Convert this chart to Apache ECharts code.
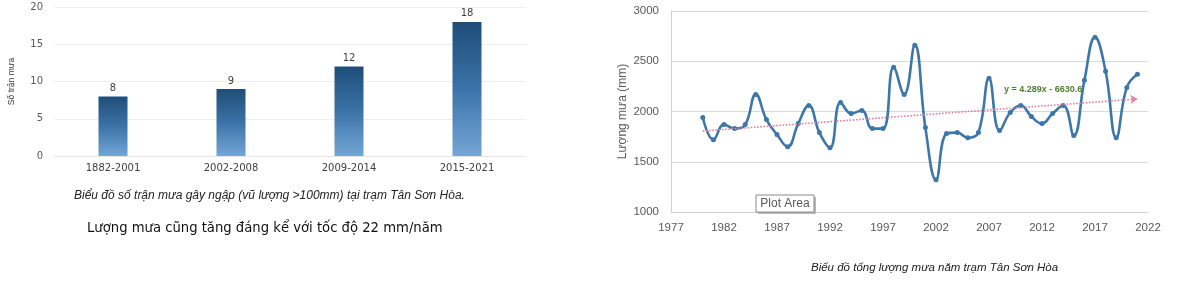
<!DOCTYPE html>
<html><head><meta charset="utf-8">
<script src="https://cdn.jsdelivr.net/npm/echarts@6/dist/echarts.min.js"></script>
<style>html,body{margin:0;padding:0;background:#fff}#c{width:1196px;height:293px}</style>
</head><body><div id="c"></div>
<script>
// ---- Left chart data ----
const periods = ['1882-2001', '2002-2008', '2009-2014', '2015-2021'];
const floodRainCounts = [8, 9, 12, 18];
const leftYTicks = [0, 5, 10, 15, 20];

// ---- Right chart data ----
const years = [1980, 1981, 1982, 1983, 1984, 1985, 1986, 1987, 1988, 1989, 1990,
  1991, 1992, 1993, 1994, 1995, 1996, 1997, 1998, 1999, 2000,
  2001, 2002, 2003, 2004, 2005, 2006, 2007, 2008, 2009, 2010,
  2011, 2012, 2013, 2014, 2015, 2016, 2017, 2018, 2019, 2020, 2021];
const rainfall = [1940, 1720, 1870, 1830, 1870, 2170, 1920, 1770, 1650, 1880, 2060,
  1790, 1640, 2090, 1980, 2010, 1830, 1830, 2440, 2170, 2660,
  1840, 1320, 1780, 1790, 1740, 1790, 2330, 1810, 1990, 2060,
  1950, 1880, 1980, 2060, 1760, 2310, 2740, 2400, 1740, 2240, 2370];
const trendYears = [1980, 2021];
const trendValues = [1805, 2125];
const xTickYears = [1977, 1982, 1987, 1992, 1997, 2002, 2007, 2012, 2017, 2022];
const rightYTicks = [1000, 1500, 2000, 2500, 3000];

const trendLabel = 'y = 4.289x - 6630.6';
const leftCaption = 'Biểu đồ số trận mưa gây ngập (vũ lượng >100mm) tại trạm Tân Sơn Hòa.';
const noteText = 'Lượng mưa cũng tăng đáng kể với tốc độ 22 mm/năm';
const rightCaption = 'Biểu đồ tổng lượng mưa năm trạm Tân Sơn Hòa';

const chart = echarts.init(document.getElementById('c'), null, {renderer: 'canvas'});
const gray = '#595959';
const lineBlue = '#3d77a9';
const plain = v => String(v);

chart.setOption({
  animation: false,
  backgroundColor: '#ffffff',
  grid: [
    {left: 54, top: 7, width: 472, height: 149, outerBoundsMode: 'none', containLabel: false},
    {left: 671, top: 11, width: 477, height: 201, outerBoundsMode: 'none', containLabel: false}
  ],
  xAxis: [
    {
      gridIndex: 0, type: 'category', data: periods,
      axisLine: {show: true, lineStyle: {color: '#e6e6e6'}},
      axisTick: {show: false},
      axisLabel: {color: '#404040', fontSize: 10, fontFamily: 'DejaVu Sans', margin: 7}
    },
    {
      gridIndex: 1, type: 'value', min: xTickYears[0], max: xTickYears[xTickYears.length - 1],
      splitLine: {show: false},
      axisLine: {show: true, lineStyle: {color: '#d0d0d0'}},
      axisTick: {show: false},
      axisLabel: {customValues: xTickYears, formatter: plain, color: gray, fontSize: 11.5, fontFamily: 'Liberation Sans', margin: 10}
    }
  ],
  yAxis: [
    {
      gridIndex: 0, type: 'value', min: leftYTicks[0], max: leftYTicks[leftYTicks.length - 1], interval: 5,
      name: 'Số trận mưa', nameLocation: 'middle', nameGap: 38, nameRotate: 90,
      nameTextStyle: {color: '#404040', fontSize: 8.5, fontFamily: 'Liberation Sans Narrow, Liberation Sans'},
      axisLine: {show: false}, axisTick: {show: false},
      splitLine: {lineStyle: {color: '#eeeeee'}},
      axisLabel: {formatter: plain, color: gray, fontSize: 10, fontFamily: 'DejaVu Sans', margin: 11}
    },
    {
      gridIndex: 1, type: 'value', min: rightYTicks[0], max: rightYTicks[rightYTicks.length - 1], interval: 500,
      name: 'Lượng mưa (mm)', nameLocation: 'middle', nameGap: 42, nameRotate: 90,
      nameTextStyle: {color: gray, fontSize: 12, fontFamily: 'Liberation Sans'},
      axisLine: {show: true, lineStyle: {color: '#d0d0d0'}}, axisTick: {show: false},
      splitLine: {lineStyle: {color: '#d9d9d9'}},
      axisLabel: {formatter: plain, color: gray, fontSize: 11.5, fontFamily: 'Liberation Sans', margin: 12}
    }
  ],
  series: [
    {
      type: 'bar', xAxisIndex: 0, yAxisIndex: 0, data: floodRainCounts, barWidth: 29,
      itemStyle: {
        color: new echarts.graphic.LinearGradient(0, 0, 0, 1, [
          {offset: 0, color: '#1f4d78'},
          {offset: 0.5, color: '#3b73a8'},
          {offset: 1, color: '#74a6d6'}
        ])
      },
      label: {show: true, position: 'top', distance: 3, color: '#404040', fontSize: 10, fontFamily: 'DejaVu Sans'}
    },
    {
      type: 'line', xAxisIndex: 1, yAxisIndex: 1,
      data: years.map((y, i) => [y, rainfall[i]]),
      smooth: 0.45, symbol: 'circle', symbolSize: 5,
      lineStyle: {color: lineBlue, width: 2.6},
      itemStyle: {color: lineBlue},
      markLine: {
        silent: true, animation: false,
        symbolSize: 7,
        lineStyle: {color: '#e0809c', type: 'dotted', width: 1.6},
        label: {show: false},
        data: [[
          {coord: [trendYears[0], trendValues[0]], symbol: 'none'},
          {coord: [trendYears[1], trendValues[1]], symbol: 'arrow'}
        ]]
      }
    }
  ],
  graphic: [
    {type: 'text', x: 74, y: 190, style: {text: leftCaption, fill: '#222', font: 'italic 12px "Liberation Sans"'}},
    {type: 'text', x: 87, y: 222, style: {text: noteText, fill: '#111', font: '13.2px "DejaVu Sans"'}},
    {type: 'text', x: 811, y: 262, style: {text: rightCaption, fill: '#222', font: 'italic 11.5px "Liberation Sans"'}},
    {type: 'text', x: 1004, y: 85, style: {text: trendLabel, fill: '#4f7f2a', font: 'bold 9px "Liberation Sans"'}},
    {type: 'rect', shape: {x: 758, y: 197, width: 58, height: 17}, style: {fill: '#b8b8b8'}, z: 10},
    {type: 'rect', shape: {x: 756, y: 195, width: 58, height: 17}, style: {fill: '#ffffff', stroke: '#8a8a8a', lineWidth: 1}, z: 11},
    {type: 'text', x: 785, y: 203.5, z: 12, style: {text: 'Plot Area', fill: '#595959', font: '12px "Liberation Sans"', align: 'center', verticalAlign: 'middle'}}
  ]
});
</script>
</body></html>
